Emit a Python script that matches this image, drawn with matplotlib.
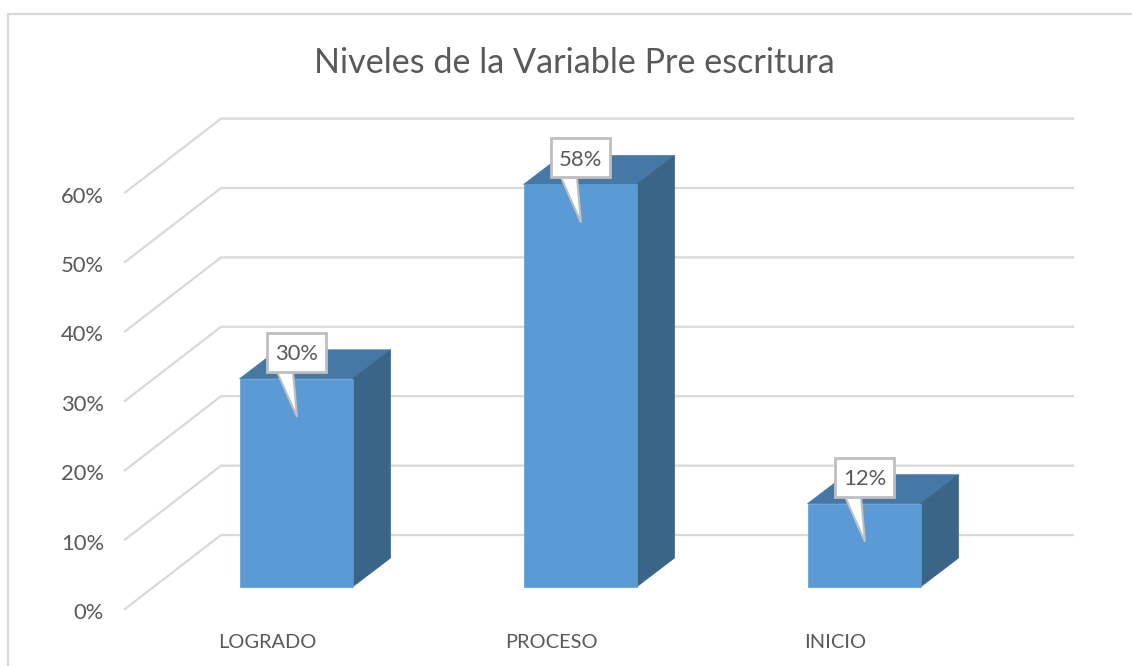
import matplotlib
matplotlib.use("Agg")
import matplotlib.pyplot as plt
from matplotlib.patches import Polygon, Rectangle

plt.rcParams["font.family"] = ["Lato", "DejaVu Sans"]

categories = ["LOGRADO", "PROCESO", "INICIO"]
values = [30, 58, 12]
y_ticks = [0, 10, 20, 30, 40, 50, 60]
title = "Niveles de la Variable Pre escritura"

FRONT = "#5B9BD5"
TOP = "#4678A6"
SIDE = "#3A6488"
GRID = "#D9D9D9"
TEXT = "#595959"

W, H = 1132, 666
PX_X = 284.0   # pixels per category
PX_Y = 6.94    # pixels per percent
X0, Y0 = 125, 609


def dx(px):
    return px / PX_X


def dy(px):
    return px / PX_Y


fig = plt.figure(figsize=(W / 100, H / 100), dpi=100)
ax = fig.add_axes([0, 0, 1, 1])
ax.set_xlim(-X0 / PX_X, (W - X0) / PX_X)
ax.set_ylim((Y0 - H) / PX_Y, Y0 / PX_Y)
ax.axis("off")

# outer frame of the chart area, cut by the picture on the right and bottom
ax.plot([dx(8 - X0), dx(8 - X0), dx(W - X0)], [dy(Y0 - H), dy(Y0 - 14), dy(Y0 - 14)],
        color=GRID, lw=1.6, zorder=1, solid_capstyle="butt")

# gridlines on floor/side wall and back wall
depth_x, depth_y = dx(96), dy(74)
right = dx(1073 - X0)
for t in y_ticks:
    ax.plot([0, depth_x, right], [t, t + depth_y, t + depth_y],
            color=GRID, lw=1.6, zorder=2, solid_joinstyle="miter")
    ax.text(dx(104 - X0), t - dy(4), f"{t}%", ha="right", va="center",
            fontsize=15.8, color=TEXT)

# bars stand 30% of the way into the floor
bar_x, bar_y = dx(29), dy(22)
bar_w = 113 / PX_X
off_x, off_y = dx(38), dy(29)

for i, (cat, v) in enumerate(zip(categories, values)):
    cx = i + 0.5
    ax.text(cx, dy(Y0 - 643), cat, ha="center", va="center", fontsize=14.4, color=TEXT)

    left = cx + bar_x - bar_w / 2
    rgt = left + bar_w
    base = bar_y
    top = base + v

    ax.add_patch(Polygon([(left, top), (rgt, top), (rgt + off_x, top + off_y),
                          (left + off_x, top + off_y)], fc=TOP, ec=TOP, lw=0.5, zorder=3))
    ax.add_patch(Polygon([(rgt, base), (rgt + off_x, base + off_y),
                          (rgt + off_x, top + off_y), (rgt, top)], fc=SIDE, ec=SIDE, lw=0.5, zorder=3))
    ax.add_patch(Rectangle((left, base), bar_w, v, fc=FRONT, ec=FRONT, lw=0.5, zorder=4))

    # data label callout
    mid = cx + bar_x
    box_l, box_r = mid - dx(29), mid + dx(30)
    box_b, box_t = top + dy(7), top + dy(46)
    tip = (mid + dx(1), top - dy(38))
    ax.add_patch(Polygon([(mid - dx(19), box_b), tip, (mid - dx(3), box_b)],
                         fc="white", ec="#BFBFBF", lw=1.5, zorder=5, joinstyle="miter"))
    ax.add_patch(Rectangle((box_l, box_b), box_r - box_l, box_t - box_b,
                           fc="white", ec="#BFBFBF", lw=2, zorder=6))
    ax.text(mid + dx(0.5), (box_b + box_t) / 2 - dy(2), f"{v}%", ha="center", va="center",
            fontsize=15.8, color=TEXT, zorder=7)

ax.text(dx(574 - X0), dy(Y0 - 63), title, ha="center", va="center", fontsize=24.6, color=TEXT)

fig.savefig("out.png", dpi=100)
